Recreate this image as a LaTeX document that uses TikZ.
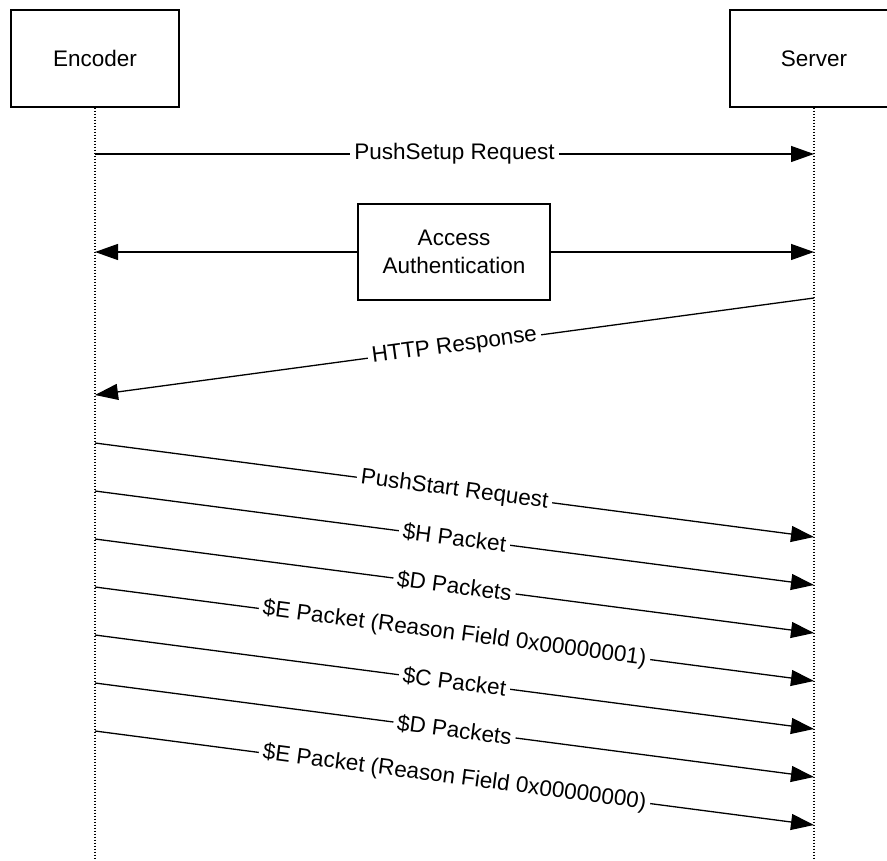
\documentclass[tikz,border=0pt]{standalone}
\usepackage{fontspec}
\setmainfont{Liberation Sans}
\usetikzlibrary{arrows.meta}
\begin{document}
\begin{tikzpicture}[x=1pt,y=-1pt,
  every node/.style={font=\fontsize{22.5}{28.5}\selectfont},
  actor/.style={draw=black, line width=1.4pt, minimum width=168pt, minimum height=97pt, inner sep=0pt, align=center},
  authbox/.style={draw=black, line width=1.4pt, minimum width=192pt, minimum height=96pt, inner sep=0pt, align=center},
  life/.style={line width=1.2pt, dash pattern=on 1.6pt off 1.4pt},
  msg/.style={line width=1.3pt, -{Triangle[length=23pt,width=16pt]}},
  lbl/.style={fill=white, inner xsep=4pt, inner ysep=1pt, sloped, pos=0.5}
]
\useasboundingbox (0,0) rectangle (887,861);
% actors
\node[actor] (enc) at (95,58.5) {Encoder};
\node[actor] (srv) at (814,58.5) {Server};
% lifeline ends
\coordinate (encB) at (95,860);
\coordinate (srvB) at (814,860);
\draw[life] (enc.south) -- (encB);
\draw[life] (srv.south) -- (srvB);
% points on lifelines
\coordinate (e1) at (95,154);  \coordinate (s1) at (814,154);
\coordinate (e2) at (95,252);  \coordinate (s2) at (814,252);
\coordinate (s3) at (814,298); \coordinate (e3) at (95,395);
\coordinate (e4) at (95,443);  \coordinate (s4) at (814,537);
\coordinate (e5) at (95,491);  \coordinate (s5) at (814,585);
\coordinate (e6) at (95,539);  \coordinate (s6) at (814,633);
\coordinate (e7) at (95,587);  \coordinate (s7) at (814,681);
\coordinate (e8) at (95,635);  \coordinate (s8) at (814,729);
\coordinate (e9) at (95,683);  \coordinate (s9) at (814,777);
\coordinate (e10) at (95,731); \coordinate (s10) at (814,825);
% PushSetup
\draw[msg] (e1) -- node[lbl] {PushSetup Request} (s1);
% Access Authentication
\node[authbox] (auth) at (454,252) {Access\\Authentication};
\draw[msg] (auth.west) -- (e2);
\draw[msg] (auth.east) -- (s2);
% HTTP Response
\draw[msg] (s3) -- node[lbl] {HTTP Response} (e3);
% Push stream
\draw[msg] (e4) -- node[lbl] {PushStart Request} (s4);
\draw[msg] (e5) -- node[lbl] {\$H Packet} (s5);
\draw[msg] (e6) -- node[lbl] {\$D Packets} (s6);
\draw[msg] (e7) -- node[lbl] {\$E Packet (Reason Field 0x00000001)} (s7);
\draw[msg] (e8) -- node[lbl] {\$C Packet} (s8);
\draw[msg] (e9) -- node[lbl] {\$D Packets} (s9);
\draw[msg] (e10) -- node[lbl] {\$E Packet (Reason Field 0x00000000)} (s10);
\end{tikzpicture}
\end{document}
